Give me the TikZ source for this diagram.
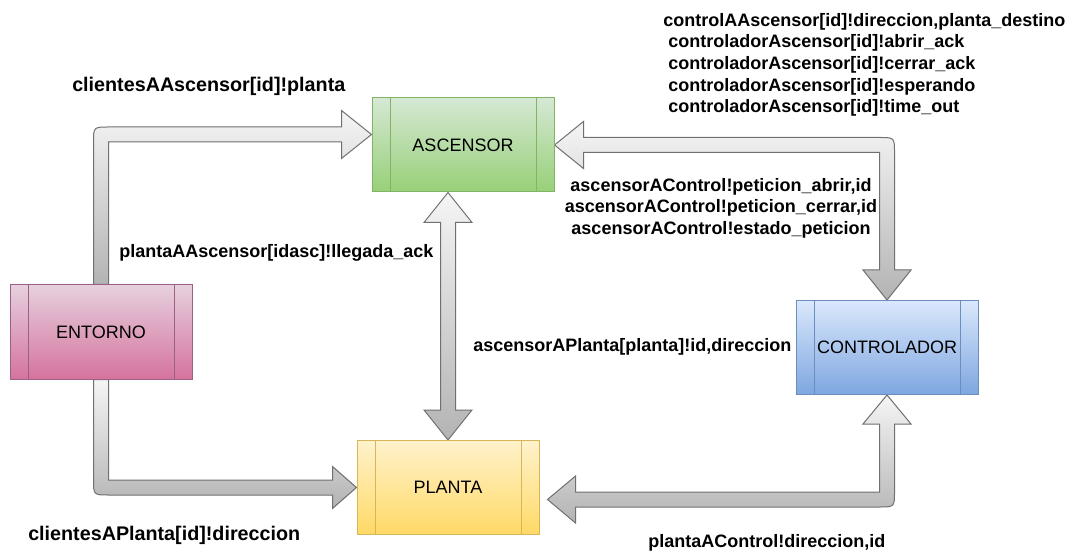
\documentclass[tikz,border=0pt]{standalone}
\usepackage{fontspec}
\setmainfont{Liberation Sans}
\usetikzlibrary{calc}
\pgfdeclarelayer{bg}
\pgfsetlayers{bg,main}

% process boxes: top colour, bottom colour, border
\definecolor{ascT}{HTML}{D5E8D4}\definecolor{ascB}{HTML}{97D077}\definecolor{ascD}{HTML}{82B366}
\definecolor{entT}{HTML}{E6D0DE}\definecolor{entB}{HTML}{D5739D}\definecolor{entD}{HTML}{996185}
\definecolor{ctlT}{HTML}{DAE8FC}\definecolor{ctlB}{HTML}{7EA6E0}\definecolor{ctlD}{HTML}{6C8EBF}
\definecolor{plaT}{HTML}{FFF2CC}\definecolor{plaB}{HTML}{FFD966}\definecolor{plaD}{HTML}{D6B656}
% block arrows
\definecolor{arrT}{HTML}{F5F5F5}\definecolor{arrB}{HTML}{B3B3B3}\definecolor{arrD}{HTML}{707070}

\begin{document}
\begin{tikzpicture}[x=0.75pt,y=-0.75pt,
  proc/.style={draw=#1D, top color=#1T, bottom color=#1B, line width=0.75pt,
    minimum width=136.5pt, minimum height=70.5pt, inner sep=0pt,
    font=\fontsize{13.5}{16}\selectfont},
  lab/.style={inner sep=0pt, font=\bfseries\fontsize{13.5}{16.2}\selectfont},
  biglab/.style={inner sep=0pt, font=\bfseries\fontsize{14.8}{17.5}\selectfont},
  flex/.style={draw=arrD, top color=arrT, bottom color=arrB, line width=0.75pt, line join=miter}]

\useasboundingbox (0,0) rectangle (1071,552);
\begin{pgfonlayer}{bg}
  \fill[white] (0,0) rectangle (1071,552);
\end{pgfonlayer}

% processes
\node[proc=asc] (asc) at (463,145)   {ASCENSOR};
\node[proc=ent] (ent) at (101,332)   {ENTORNO};
\node[proc=ctl] (ctl) at (887,347.5) {CONTROLADOR};
\node[proc=pla] (pla) at (448,487.5) {PLANTA};

% side bars of the process shapes
\foreach \n in {asc,ent,ctl,pla}
  \draw[draw=\n D, line width=0.75pt]
    ($(\n.north west)+(18.5,0)$) -- ($(\n.south west)+(18.5,0)$)
    ($(\n.north east)+(-18.5,0)$) -- ($(\n.south east)+(-18.5,0)$);

% bend points and tips of the connectors
\coordinate (k1) at ($(ent.north |- asc.west)+(0,-10.5)$);
\coordinate (t1) at (asc.west |- k1);
\coordinate (k2) at (ent.south |- pla.west);
\coordinate (t3) at (pla.north |- asc.south);
\coordinate (k4) at (ctl.north |- asc.east);
\coordinate (k5) at ($(ctl.south |- pla.east)+(0,12)$);
\coordinate (t5) at ($(pla.east |- k5)+(8,0)$);

\begin{pgfonlayer}{bg}
% ENTORNO -> ASCENSOR
\draw[flex] ($(ent.north)+(-7.5,0)$) -- ($(k1)+(-7.5,8)$)
  .. controls ($(k1)+(-7.5,-7.5)$) .. ($(k1)+(8,-7.5)$)
  -- ($(t1)+(-30,-7.5)$) -- ($(t1)+(-30,-24)$) -- (t1) -- ($(t1)+(-30,24)$)
  -- ($(t1)+(-30,7.5)$) -- ($(k1)+(7.5,7.5)$) -- ($(ent.north)+(7.5,0)$) -- cycle;
% ENTORNO -> PLANTA
\draw[flex] ($(ent.south)+(-7.5,0)$) -- ($(k2)+(-7.5,-8)$)
  .. controls ($(k2)+(-7.5,7.5)$) .. ($(k2)+(8,7.5)$)
  -- ($(pla.west)+(-24,7.5)$) -- ($(pla.west)+(-24,21)$) -- (pla.west)
  -- ($(pla.west)+(-24,-21)$) -- ($(pla.west)+(-24,-7.5)$)
  -- ($(k2)+(7.5,-7.5)$) -- ($(ent.south)+(7.5,0)$) -- cycle;
% ASCENSOR <-> PLANTA
\draw[flex] (t3) -- ($(t3)+(24,30)$) -- ($(t3)+(7.5,30)$)
  -- ($(pla.north)+(7.5,-30)$) -- ($(pla.north)+(24,-30)$) -- (pla.north)
  -- ($(pla.north)+(-24,-30)$) -- ($(pla.north)+(-7.5,-30)$)
  -- ($(t3)+(-7.5,30)$) -- ($(t3)+(-24,30)$) -- cycle;
% ASCENSOR <-> CONTROLADOR
\draw[flex] (asc.east) -- ($(asc.east)+(29,-23.5)$) -- ($(asc.east)+(29,-7.5)$)
  -- ($(k4)+(-8,-7.5)$) .. controls ($(k4)+(7.5,-7.5)$) .. ($(k4)+(7.5,8)$)
  -- ($(ctl.north)+(7.5,-30)$) -- ($(ctl.north)+(24,-30)$) -- (ctl.north)
  -- ($(ctl.north)+(-24,-30)$) -- ($(ctl.north)+(-7.5,-30)$)
  -- ($(k4)+(-7.5,7.5)$) -- ($(asc.east)+(29,7.5)$) -- ($(asc.east)+(29,23.5)$) -- cycle;
% PLANTA <-> CONTROLADOR
\draw[flex] (ctl.south) -- ($(ctl.south)+(24,29)$) -- ($(ctl.south)+(7.5,29)$)
  -- ($(k5)+(7.5,-8)$) .. controls ($(k5)+(7.5,7.5)$) .. ($(k5)+(-8,7.5)$)
  -- ($(t5)+(28,7.5)$) -- ($(t5)+(28,23.5)$) -- (t5) -- ($(t5)+(28,-23.5)$)
  -- ($(t5)+(28,-7.5)$) -- ($(k5)+(-7.5,-7.5)$)
  -- ($(ctl.south)+(-7.5,29)$) -- ($(ctl.south)+(-24,29)$) -- cycle;
\end{pgfonlayer}

% message labels
\node[biglab, anchor=west] (m1) at (72,86) {clientesAAscensor[id]!planta};
\node[lab, anchor=west] (m2) at (119,253) {plantaAAscensor[idasc]!llegada\_ack};
\node[lab, anchor=north west, align=left] (m3) at (663,13) {%
  controlAAscensor[id]!direccion,planta\_destino\\
  \hspace*{3.75pt}controladorAscensor[id]!abrir\_ack\\
  \hspace*{3.75pt}controladorAscensor[id]!cerrar\_ack\\
  \hspace*{3.75pt}controladorAscensor[id]!esperando\\
  \hspace*{3.75pt}controladorAscensor[id]!time\_out};
\node[lab, align=center] (m4) at (721,208) {%
  ascensorAControl!peticion\_abrir,id\\
  ascensorAControl!peticion\_cerrar,id\\
  ascensorAControl!estado\_peticion};
\node[lab, anchor=west] (m5) at (473,347) {ascensorAPlanta[planta]!id,direccion};
\node[biglab, anchor=west] (m6) at (28,535) {clientesAPlanta[id]!direccion};
\node[lab, anchor=west] (m7) at (648,543) {plantaAControl!direccion,id};
\end{tikzpicture}
\end{document}
